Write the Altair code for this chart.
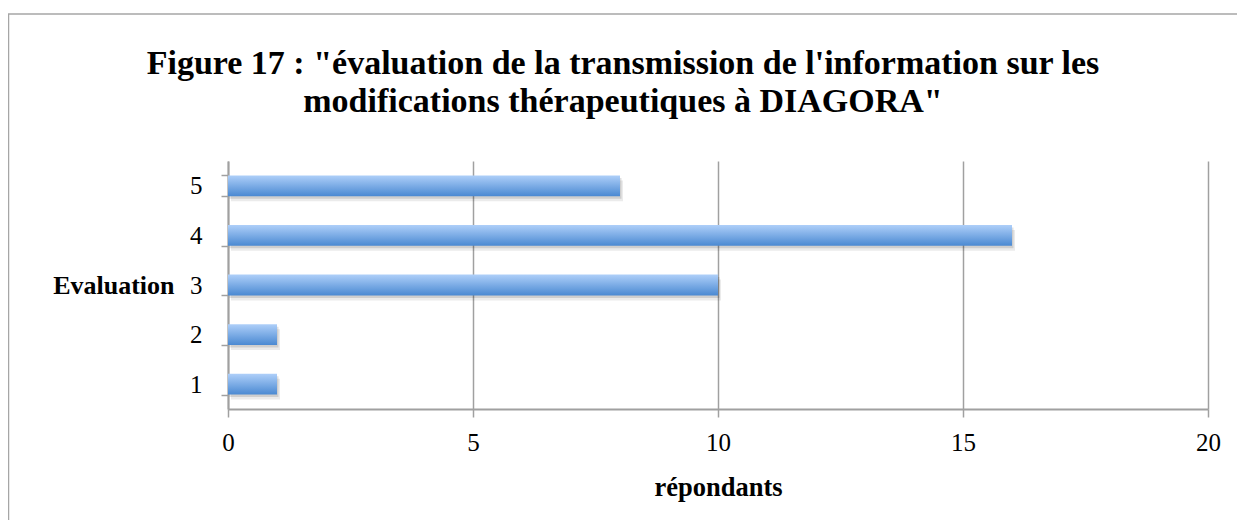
import altair as alt
import pandas as pd

evaluations = ["1", "2", "3", "4", "5"]
respondents = [1, 1, 10, 16, 8]
x_ticks = [0, 5, 10, 15, 20]

title_lines = ["Figure 17 : \"évaluation de la transmission de l'information sur les",
               "modifications thérapeutiques à DIAGORA\""]
x_title = "répondants"
y_title = "Evaluation"

df = pd.DataFrame({"evaluation": evaluations, "respondents": respondents})

FONT = "Liberation Serif"
GRAY = "#a0a0a0"

y_enc = alt.Y(
    "evaluation:N",
    sort=list(reversed(evaluations)),
    scale=alt.Scale(paddingInner=0.58, paddingOuter=0.29),
    axis=alt.Axis(
        title=y_title, titleAngle=0, titleAlign="right", titleBaseline="middle",
        titleX=-54, titleY=124, titleFont=FONT, titleFontSize=26, titleFontWeight="bold",
        titleColor="black",
        labelFont=FONT, labelFontSize=25, labelColor="black", labelPadding=19,
        tickBand="extent", tickSize=7, tickColor=GRAY, tickWidth=1.5,
        domainColor=GRAY, domainWidth=2, grid=False,
    ),
)
x_enc = alt.X(
    "respondents:Q",
    scale=alt.Scale(domain=[0, 20], nice=False),
    axis=alt.Axis(
        values=x_ticks, title=x_title, titleFont=FONT, titleFontSize=26.5,
        titleFontWeight="bold", titleColor="black", titleX=490, titleY=86,
        titleBaseline="alphabetic", titleAlign="center",
        labelFont=FONT, labelFontSize=25, labelColor="black", labelPadding=13,
        labelFlush=False,
        tickSize=8, tickColor=GRAY, tickWidth=1.5, domainColor=GRAY, domainWidth=2,
        grid=True, gridColor=GRAY, gridWidth=1.5,
    ),
)

gradient = alt.Gradient(
    gradient="linear",
    stops=[alt.GradientStop(color="#aecff9", offset=0),
           alt.GradientStop(color="#4a89d2", offset=1)],
    x1=0, x2=0, y1=0, y2=1,
)

base = alt.Chart(df)
shadow1 = base.mark_bar(color="#000000", opacity=0.08, yOffset=5, xOffset=3).encode(x=x_enc, y=y_enc)
shadow2 = base.mark_bar(color="#000000", opacity=0.12, yOffset=2.5, xOffset=1.5).encode(x=x_enc, y=y_enc)
bars = base.mark_bar(color=gradient).encode(x=x_enc, y=y_enc)

border = alt.Chart(alt.Data(values=[{}])).mark_rect(
    fill=None, stroke="#a6a6a6", strokeWidth=1.5
).encode(x=alt.value(-219.5), x2=alt.value(1300), y=alt.value(-147), y2=alt.value(700))

chart = alt.layer(border, shadow1, shadow2, bars).properties(
    width=980,
    height=248,
    background="white",
    autosize=alt.AutoSizeParams(type="none"),
    padding={"left": 220, "top": 153, "right": 29, "bottom": 111},
    title=alt.TitleParams(
        text=title_lines, font=FONT, fontSize=34, fontWeight="bold", color="black",
        anchor="middle", dx=-95, dy=148, offset=42, lineHeight=38,
    ),
).configure_view(stroke=None)

chart.save("out.html", embed_options={"renderer": "svg", "actions": False})
